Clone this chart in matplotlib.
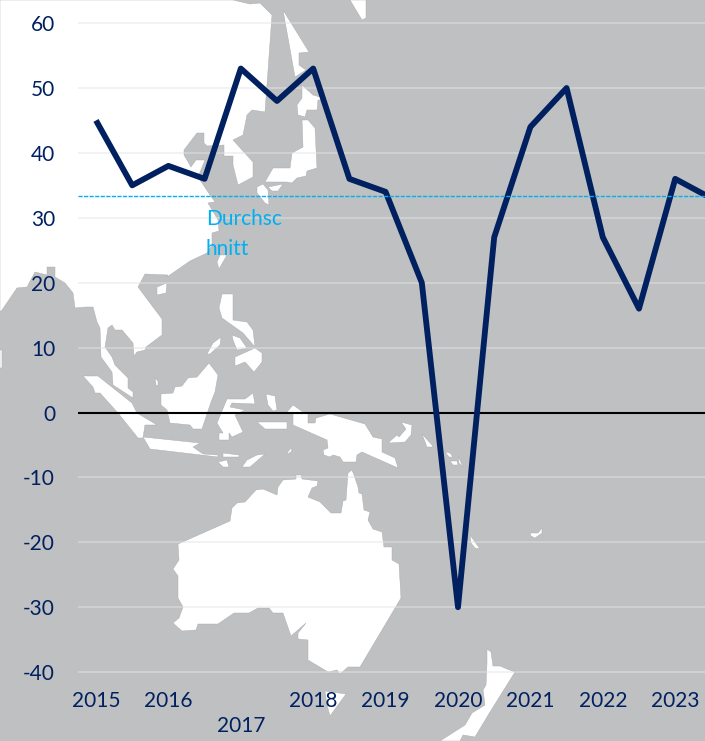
import matplotlib
matplotlib.use("Agg")
import matplotlib.pyplot as plt
from matplotlib.patches import Polygon

# ---------- chart data ----------
quarters = list(range(18))
values = [45, 35, 38, 36, 53, 48, 53, 36, 34, 20, -30, 27, 44, 50, 27, 16, 36, 33]
average = 33.3
year_ticks = [0, 2, 4, 6, 8, 10, 12, 14, 16]
year_labels = ["2015", "2016", "\n2017", "2018", "2019", "2020", "2021", "2022", "2023"]
y_ticks = [60, 50, 40, 30, 20, 10, 0, -10, -20, -30, -40]
avg_label = "Durchsc\nhnitt"

NAVY = "#002060"
CYAN = "#00B0F0"
SEA = "#bfc0c2"
GRID = "#e3e3e3"

# ---------- decorative background map (pixel outline of the picture) ----------
asia = [(0,0),(233,0),(250,4),(260,3),(272,15),(265,112),(252,110),(247,115),(243,135),(233,140),
        (253,162),(253,177),(238,185),(233,165),(233,156),(224,156),(224,145),(207,146),(204,143),
        (204,133),(197,133),(184,150),(184,155),(191,167),(196,160),(205,160),(198,177),(210,195),
        (215,202),(208,203),(218,220),(219,231),(212,233),(212,245),(207,253),(190,261),(167,277),
        (168,275),(145,274),(138,287),(162,319),(162,335),(146,347),(145,350),(137,352),(134,356),
        (133,343),(122,330),(115,330),(112,325),(108,328),(105,347),(112,357),(115,365),(128,378),
        (128,388),(133,392),(133,398),(113,385),(112,372),(101,357),(100,328),(97,322),(93,307),
        (86,307),(75,308),(73,293),(65,283),(55,277),(55,267),(47,267),(47,275),(35,272),(27,287),
        (17,288),(2,310),(0,312)]
india_tip = [(0,350),(2,350),(2,368),(0,368)]
hainan = [(157,287),(167,283),(166,293),(157,295)]
sliver = [(220,255),(227,255),(219,269),(217,262)]
korea = [(283,10),(309,52),(299,53),(299,65),(306,70),(295,77)]
hokkaido = [(302,85),(313,95),(330,100),(318,100),(317,110),(307,110),(305,117),(298,115),(297,105),(302,98)]
honshu = [(302,120),(308,120),(315,128),(317,168),(307,171),(306,176),(297,178),(292,183),(287,182),
          (265,182),(273,168),(290,168),(292,153),(303,147)]
kyushu = [(257,187),(263,184),(268,190),(269,205),(265,203),(257,193)]
shikoku = [(268,187),(283,184),(278,191),(272,191)]
top_isle = [(350,0),(366,0),(366,18),(362,20)]
luzon = [(222,294),(233,294),(233,320),(247,322),(253,330),(255,347),(243,333),(222,318),(219,308)]
palawan = [(221,337),(220,345),(210,354),(207,354),(213,343)]
visayas = [(232,335),(240,338),(247,348),(237,350),(233,340)]
mindanao = [(235,357),(255,348),(262,353),(262,362),(254,372),(245,362),(235,366)]
sumatra = [(83,376),(98,376),(132,403),(137,413),(157,425),(145,425),(143,438),(138,438),(118,413),
           (100,393),(95,393),(93,387)]
natuna = [(155,378),(158,381),(158,386),(156,385)]
borneo = [(209,363),(218,375),(215,392),(211,402),(202,429),(193,429),(190,425),(170,423),(167,410),
          (161,405),(161,394),(173,393),(175,387),(182,386),(188,378),(197,377)]
sulawesi = [(253,393),(255,404),(232,403),(230,407),(245,410),(235,415),(243,432),(232,437),(229,433),
            (229,440),(219,440),(219,433),(223,433),(217,423),(227,399),(245,399)]
halmahera = [(266,394),(275,396),(277,410),(273,411),(268,405)]
java = [(143,437),(200,443),(193,447),(203,454),(218,455),(218,457),(150,449)]
bali = [(223,453),(239,455),(239,457),(223,457)]
sumba = [(218,462),(227,460),(229,467),(223,467)]
timor = [(265,454),(250,467),(242,467),(247,460),(257,455)]
seram = [(257,422),(287,422),(287,429),(265,429)]
tanimbar = [(287,453),(291,448),(292,451),(288,454)]
new_guinea = [(287,412),(293,405),(303,412),(308,413),(308,423),(315,423),(316,418),(330,414),(365,424),
              (373,437),(382,439),(382,452),(395,458),(398,468),(362,452),(357,455),(356,462),(343,462),
              (340,457),(333,455),(330,457),(324,455),(323,450),(328,448),(327,440),(293,425),(293,413)]
new_britain = [(401,422),(412,425),(411,435),(405,442),(390,443),(389,442),(397,435),(399,437),(406,429)]
solomon_a = [(422,434),(432,445),(433,447),(427,447)]
solomon_b = [(445,452),(450,453),(453,457),(449,457)]
solomon_c = [(450,461),(457,461),(458,465),(453,465)]
solomon_d = [(458,456),(463,467),(459,463)]
vanuatu = [(530,533),(538,533),(542,528),(542,533),(535,538),(531,536)]
caledonia = [(470,535),(480,549),(475,548),(471,543)]
australia = [(178,544),(230,521),(232,508),(237,503),(245,502),(256,490),(263,489),(277,495),(278,487),
             (283,480),(296,479),(296,475),(301,475),(302,479),(318,481),(317,486),(312,488),(308,497),
             (320,502),(331,513),(341,513),(343,501),(346,500),(348,473),(352,470),(354,475),(358,487),
             (359,493),(362,494),(364,510),(370,512),(368,520),(373,529),(382,532),(384,547),(392,547),
             (392,560),(399,564),(401,598),(360,667),(348,667),(340,674),(337,670),(328,672),(308,660),
             (308,640),(298,639),(298,633),(306,623),(291,636),(283,613),(273,613),(269,608),(258,608),
             (249,613),(234,613),(218,624),(198,624),(196,630),(182,631),(173,623),(179,618),(183,607),
             (178,598),(178,576),(173,569),(179,560)]
tasmania = [(325,691),(346,694),(330,716),(327,705)]
new_zealand = [(487,649),(491,652),(493,666),(500,666),(507,669),(515,672),(490,712),(475,737),(463,735),
               (460,741),(440,741),(465,725),(472,713),(485,705),(483,690),(486,685),(487,663)]
land = [asia, india_tip, hainan, sliver, korea, hokkaido, honshu, kyushu, shikoku, top_isle, luzon, palawan,
        visayas, mindanao, sumatra, natuna, borneo, sulawesi, halmahera, java, bali, sumba, timor, seram,
        tanimbar, new_guinea, new_britain, solomon_a, solomon_b, solomon_c, solomon_d, vanuatu, caledonia,
        australia, tasmania, new_zealand]

plt.rcParams["font.family"] = ["Lato", "DejaVu Sans"]
plt.rcParams["axes.unicode_minus"] = False
W, H = 705, 741
fig = plt.figure(figsize=(W / 100, H / 100), dpi=100)

bg = fig.add_axes([0, 0, 1, 1], zorder=0)
bg.set_xlim(0, W)
bg.set_ylim(H, 0)
bg.axis("off")
bg.add_patch(plt.Rectangle((0, 0), W, H, color=SEA, lw=0))
for shape in land:
    bg.add_patch(Polygon(shape, closed=True, facecolor="white", edgecolor="#a9a9ab", lw=0.3))

# plot area: x 78..705 px, y 0..690 px
ax = fig.add_axes([78 / W, (H - 690) / H, (W - 78) / W, 690 / H], zorder=1)
ax.patch.set_alpha(0)
step = 36.2
ax.set_xlim((78 - 96) / step, (705 - 96) / step)
unit = 6.49
ax.set_ylim(-(690 - 412.5) / unit, 412.5 / unit)
for s in ax.spines.values():
    s.set_visible(False)

ax.set_yticks(y_ticks)
ax.set_xticks(year_ticks)
ax.set_xticklabels(year_labels, linespacing=1.35)
ax.tick_params(axis="both", length=0, labelsize=15, labelcolor=NAVY)
ax.tick_params(axis="y", pad=16.5)
ax.tick_params(axis="x", pad=0.5)
ax.yaxis.grid(True, color=GRID, lw=1.2, alpha=0.55, zorder=1)
ax.set_axisbelow(True)

ax.axhline(0, color="black", lw=1.5, zorder=2)
ax.axhline(average, color=CYAN, lw=1.0, ls=(0, (3, 1)), zorder=5)
ax.plot(quarters, values, color=NAVY, lw=4.2, solid_joinstyle="round", solid_capstyle="butt", zorder=4)
ax.text(3.03, 31.4, avg_label, color=CYAN, fontsize=15, va="top", ha="left", linespacing=1.62, zorder=5)

fig.savefig("out.png", dpi=100)
